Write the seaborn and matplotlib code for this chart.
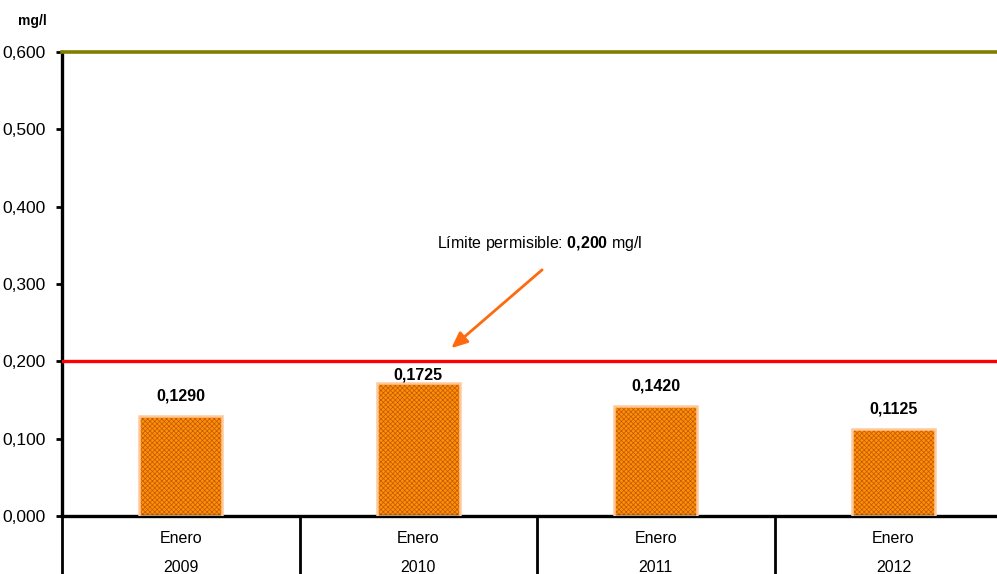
import matplotlib
matplotlib.use("Agg")
import matplotlib.pyplot as plt
import seaborn as sns
import pandas as pd
from matplotlib.patches import Rectangle
from matplotlib.ticker import FuncFormatter, FixedLocator

months = ["Enero", "Enero", "Enero", "Enero"]
years = ["2009", "2010", "2011", "2012"]
values = [0.1290, 0.1725, 0.1420, 0.1125]
limit_value = 0.200
y_max = 0.600
y_unit = "mg/l"

sns.set_theme(style="white")
plt.rcParams["font.family"] = ["Liberation Sans", "DejaVu Sans"]
plt.rcParams["mathtext.fontset"] = "custom"
plt.rcParams["mathtext.rm"] = "Liberation Sans"
plt.rcParams["mathtext.bf"] = "Liberation Sans:bold"
plt.rcParams["hatch.linewidth"] = 0.5
plt.rcParams["text.color"] = "black"
plt.rcParams["xtick.labelcolor"] = "black"
plt.rcParams["ytick.labelcolor"] = "black"

labels = [f"{m}\n{y}" for m, y in zip(months, years)]
df = pd.DataFrame({"cat": labels, "val": values})

fig = plt.figure(figsize=(9.97, 5.74), dpi=100)
ax = fig.add_axes([0.0622, 0.1010, 0.953, 0.8084])

sns.barplot(data=df, x="cat", y="val", ax=ax, color="#FF8E0A", width=0.35,
            edgecolor="#C05A00", linewidth=0, saturation=1)
for p in ax.patches:
    p.set_hatch("xxxxxxx")
    p.set_linewidth(0)
    ax.add_patch(Rectangle((p.get_x(), p.get_y()), p.get_width(), p.get_height(),
                           fill=False, edgecolor="#FFC89A", linewidth=1.8, zorder=3))

ax.set_xlim(-0.5, len(values) - 0.5)
ax.set_ylim(0, y_max)
ax.set_xlabel("")
ax.set_ylabel("")

# y axis
ax.yaxis.set_major_locator(FixedLocator([i / 10 for i in range(7)]))
ax.yaxis.set_major_formatter(FuncFormatter(lambda v, _: f"{v:.3f}".replace(".", ",")))
ax.tick_params(axis="y", which="major", direction="out", length=4, width=2,
               color="black", labelcolor="black", labelsize=12.5, pad=8, left=True)

# x axis
ax.tick_params(axis="x", which="major", length=0, labelsize=11.5, pad=11,
               labelcolor="black")
for t in ax.get_xticklabels():
    t.set_linespacing(2.1)
ax.xaxis.set_minor_locator(FixedLocator([i - 0.5 for i in range(len(values) + 1)]))
ax.tick_params(axis="x", which="minor", bottom=True, direction="out", length=44,
               width=2, color="black")

# spines
for s in ["left", "bottom"]:
    ax.spines[s].set_visible(True)
    ax.spines[s].set_color("black")
    ax.spines[s].set_linewidth(2.4)
ax.spines["right"].set_visible(False)
ax.spines["top"].set_visible(True)
ax.spines["top"].set_color("#808000")
ax.spines["top"].set_linewidth(2.6)

# limit line
ax.axhline(limit_value, color="#FF0000", linewidth=2.4, zorder=4)

# value labels
for i, (p, v) in enumerate(zip(ax.patches, values)):
    off = 9 if v + 0.04 < limit_value else 0
    ax.annotate(f"{v:.4f}".replace(".", ","),
                (p.get_x() + p.get_width() / 2, p.get_height()),
                xytext=(0, off), textcoords="offset points",
                ha="center", va="bottom", fontsize=11.5, fontweight="bold",
                color="black", zorder=5)

# limit annotation
lim_txt = f"{limit_value:.3f}".replace(".", "{,}")
ax.text(1.51, 0.353, f"Límite permisible: $\\mathbf{{{lim_txt}}}$ mg/l",
        ha="center", va="center", fontsize=11.5, color="black")
ax.annotate("", xy=(1.13, 0.2147), xytext=(1.53, 0.3207),
            arrowprops=dict(arrowstyle="-|>,head_length=0.8,head_width=0.35",
                            color="#FF6A10", lw=2))

fig.text(0.032, 0.963, y_unit, ha="center", va="center", fontsize=10,
         fontweight="bold", color="black")

fig.savefig("out.png", dpi=100)
